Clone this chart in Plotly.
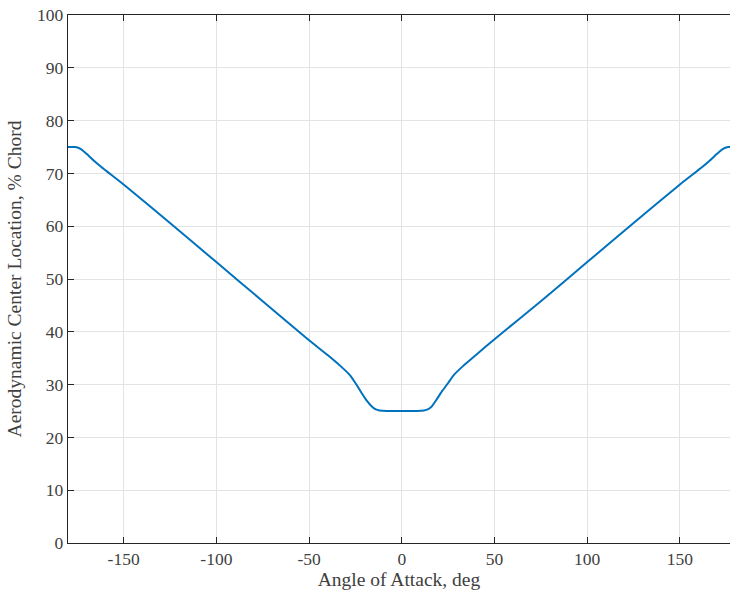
import plotly.graph_objects as go

alpha_deg = [-180, -176, -173, -170, -166, -162, -158, -150, -125, -100, -75, -50,
             -40, -33, -28, -25, -22, -19, -16, -14, -12, -8, 0,
             8, 12, 14, 16, 19, 22, 25, 28, 33, 40, 50, 75, 100, 125, 150,
             158, 162, 166, 170, 173, 176, 180]
ac_location = [75.0, 75.0, 74.6, 73.7, 72.4, 71.2, 70.1, 67.9, 60.6, 53.2, 45.8, 38.4,
               35.6, 33.5, 31.8, 30.3, 28.6, 27.0, 25.8, 25.3, 25.1, 25.0, 25.0,
               25.0, 25.1, 25.3, 25.8, 27.3, 28.9, 30.3, 31.8, 33.5, 35.6, 38.6, 45.8, 53.2, 60.6, 67.9,
               70.1, 71.2, 72.4, 73.7, 74.6, 75.0, 75.0]

x_ticks = [-150, -100, -50, 0, 50, 100, 150]
y_ticks = [0, 10, 20, 30, 40, 50, 60, 70, 80, 90, 100]

fig = go.Figure()
fig.add_trace(go.Scatter(
    x=alpha_deg, y=ac_location, mode="lines",
    line=dict(color="#0072BD", width=2, shape="spline", smoothing=0.5),
    showlegend=False, hoverinfo="skip"))

axis_common = dict(
    showgrid=True, gridcolor="#e3e3e3", gridwidth=1,
    zeroline=False, showline=True, linecolor="#262626", linewidth=1.3,
    ticks="inside", ticklen=6, tickcolor="#262626", tickwidth=1,
    tickfont=dict(family="Liberation Serif", size=17.5, color="#404040"),
    title_font=dict(family="Liberation Serif", size=19.5, color="#404040"),
)

fig.update_layout(
    width=730, height=601,
    margin=dict(l=68, r=0, t=15, b=58),
    paper_bgcolor="white", plot_bgcolor="white",
    xaxis=dict(range=[-180, 177], tickvals=x_ticks, ticktext=[str(v) for v in x_ticks],
               mirror="ticks", title=dict(text="Angle of Attack, deg", standoff=4),
               **axis_common),
    yaxis=dict(range=[0, 100], tickvals=y_ticks, ticktext=[str(v) for v in y_ticks],
               mirror=False, title=dict(text="Aerodynamic Center Location, % Chord", standoff=10),
               **axis_common),
)

fig.write_html("out.html")
